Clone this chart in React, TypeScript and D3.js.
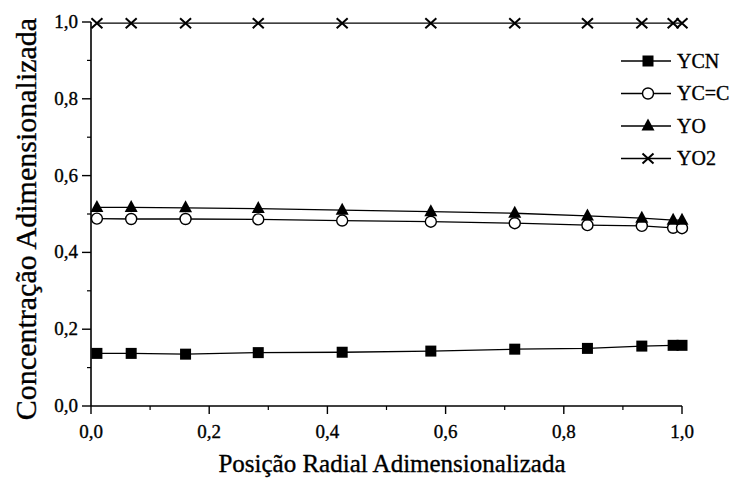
import React from "react";
import * as d3 from "d3";

const xPos = [0.01, 0.068, 0.16, 0.283, 0.425, 0.575, 0.717, 0.84, 0.932, 0.985, 1.0];
const yCN = [0.137, 0.137, 0.135, 0.139, 0.14, 0.143, 0.148, 0.15, 0.156, 0.158, 0.158];
const yCC = [0.488, 0.487, 0.487, 0.486, 0.483, 0.48, 0.476, 0.471, 0.469, 0.464, 0.463];
const yO = [0.517, 0.517, 0.516, 0.514, 0.51, 0.506, 0.502, 0.495, 0.489, 0.484, 0.484];
const yO2 = [0.997, 0.997, 0.997, 0.997, 0.997, 0.997, 0.997, 0.997, 0.997, 0.997, 0.997];
const seriesNames = ["YCN", "YC=C", "YO", "YO2"];
const markerKinds = ["square", "circle", "triangle", "cross"];
const majorTicks = [0, 0.2, 0.4, 0.6, 0.8, 1.0];
const minorTicks = [0.1, 0.3, 0.5, 0.7, 0.9];
const xTitle = "Posição Radial Adimensionalizada";
const yTitle = "Concentração Adimensionalizada";

const txt = { fontFamily: '"Liberation Serif"' };
const fmt = (v: number) => d3.format(".1f")(v).replace(".", ",");

function Marker({ kind, cx, cy }: { kind: string; cx: number; cy: number }) {
  if (kind === "square") {
    return <rect x={cx - 5.5} y={cy - 5.5} width={11} height={11} fill="#000" />;
  }
  if (kind === "circle") {
    return <circle cx={cx} cy={cy} r={5.5} fill="#fff" stroke="#000" strokeWidth={1.4} />;
  }
  if (kind === "triangle") {
    return (
      <path
        d={`M${cx},${cy - 7.5}L${cx + 6.5},${cy + 4.5}L${cx - 6.5},${cy + 4.5}Z`}
        fill="#000"
      />
    );
  }
  return (
    <path
      d={`M${cx - 5.5},${cy - 5}L${cx + 5.5},${cy + 5}M${cx - 5.5},${cy + 5}L${cx + 5.5},${cy - 5}`}
      stroke="#000"
      strokeWidth={2}
      fill="none"
    />
  );
}

export default function App() {
  const x = d3.scaleLinear().domain([0, 1]).range([91, 682]);
  const y = d3.scaleLinear().domain([0, 1]).range([406, 22]);
  const allSeries = [yCN, yCC, yO, yO2];
  const line = d3
    .line<number>()
    .x((_, i) => x(xPos[i]))
    .y((d) => y(d));

  const legendX0 = 621;
  const legendX1 = 671;
  const legendMid = 648;
  const legendY = (i: number) => 61 + i * 32.5;
  const tStroke = { stroke: "#000", strokeWidth: 0.35 };

  return (
    <svg
      width={751}
      height={480}
      style={{ position: "absolute", left: 0, top: 0, background: "#fff" }}
    >
      {/* axes */}
      <line x1={x(0)} x2={x(0)} y1={y(1)} y2={y(0)} stroke="#000" strokeWidth={1.6} />
      <line x1={x(0)} x2={x(1)} y1={y(0)} y2={y(0)} stroke="#000" strokeWidth={1.6} />
      {majorTicks.map((t) => (
        <g key={"xm" + t}>
          <line x1={x(t)} x2={x(t)} y1={y(0)} y2={y(0) + 8} stroke="#000" strokeWidth={1.4} />
          <text x={x(t)} y={438} textAnchor="middle" fontSize={19} style={txt} {...tStroke}>
            {fmt(t)}
          </text>
          <line x1={x(0) - 9} x2={x(0)} y1={y(t)} y2={y(t)} stroke="#000" strokeWidth={1.4} />
          <text x={78} y={y(t) + 6} textAnchor="end" fontSize={19} style={txt} {...tStroke}>
            {fmt(t)}
          </text>
        </g>
      ))}
      {minorTicks.map((t) => (
        <g key={"xn" + t}>
          <line x1={x(t)} x2={x(t)} y1={y(0)} y2={y(0) + 4} stroke="#000" strokeWidth={1.2} />
          <line x1={x(0) - 4} x2={x(0)} y1={y(t)} y2={y(t)} stroke="#000" strokeWidth={1.2} />
        </g>
      ))}
      <text x={392} y={472} textAnchor="middle" fontSize={25} style={txt} {...tStroke}>
        {xTitle}
      </text>
      <text
        transform={`translate(36,219) rotate(-90)`}
        textAnchor="middle"
        fontSize={30}
        style={txt}
        {...tStroke}
      >
        {yTitle}
      </text>

      {/* series */}
      {allSeries.map((s, si) => (
        <g key={"s" + si}>
          <path d={line(s) || ""} fill="none" stroke="#000" strokeWidth={1.3} />
          {s.map((v, i) => (
            <Marker key={i} kind={markerKinds[si]} cx={x(xPos[i])} cy={y(v)} />
          ))}
        </g>
      ))}

      {/* legend */}
      {seriesNames.map((name, i) => (
        <g key={"l" + name}>
          <line x1={legendX0} x2={legendX1} y1={legendY(i)} y2={legendY(i)} stroke="#000" strokeWidth={1.3} />
          <Marker kind={markerKinds[i]} cx={legendMid} cy={legendY(i)} />
          <text x={677} y={legendY(i) + 6.5} fontSize={20} style={txt} {...tStroke}>
            {name}
          </text>
        </g>
      ))}
    </svg>
  );
}
